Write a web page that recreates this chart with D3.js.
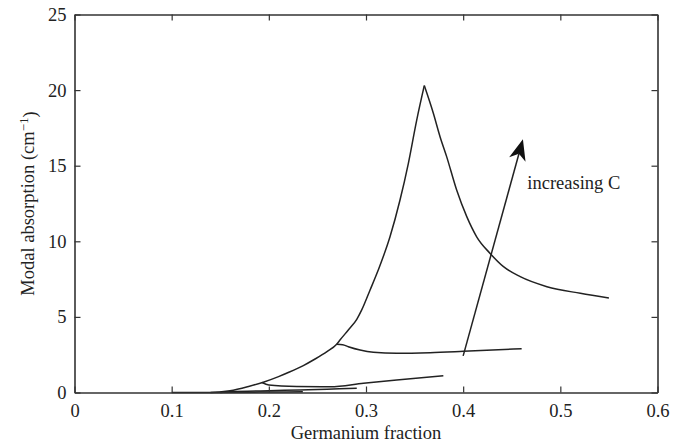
<!DOCTYPE html>
<html><head><meta charset="utf-8">
<script src="https://cdn.jsdelivr.net/npm/d3@7"></script>
<style>body{margin:0;background:#fff}svg{display:block}</style>
</head><body><div id="chart"></div>
<script>
const xTicks = [0, 0.1, 0.2, 0.3, 0.4, 0.5, 0.6];
const yTicks = [0, 5, 10, 15, 20, 25];
const xTickLabels = ["0", "0.1", "0.2", "0.3", "0.4", "0.5", "0.6"];
const yTickLabels = ["0", "5", "10", "15", "20", "25"];

// curves of modal absorption vs germanium fraction (largest C first)
const c4x = [0.10,0.14,0.16,0.18,0.1943,0.21,0.22,0.2355,0.2458,0.2598,0.2698,0.2732,0.282,0.2905,0.2956,0.3040,0.3126,0.3247,0.335,0.3436,0.3522,0.360,0.3693,0.3762,0.383,0.3933,0.4037,0.4139,0.4277,0.4415,0.4587,0.4862,0.5206,0.55];
const c4y = [0,0,0.12,0.42,0.68,1.05,1.32,1.78,2.15,2.70,3.19,3.47,4.15,4.84,5.46,6.75,8.10,10.30,12.73,15.16,18.02,20.3,18.47,16.92,15.6,13.39,11.63,10.30,9.2,8.32,7.66,7.0,6.56,6.25];
const c3x = [0.2698,0.2760,0.2818,0.2939,0.3076,0.3316,0.3659,0.4002,0.4602];
const c3y = [3.19,3.16,3.03,2.81,2.66,2.59,2.63,2.72,2.90];
const c2x = [0.1930,0.2000,0.2288,0.2631,0.2974,0.3316,0.3796];
const c2y = [0.66,0.50,0.40,0.38,0.61,0.83,1.11];
const c1x = [0.150,0.160,0.200,0.232,0.260,0.2905];
const c1y = [0.0,0.05,0.12,0.17,0.22,0.28];
const c0x = [0.14,0.20,0.235];
const c0y = [0.0,0.03,0.05];

const arrowX = [0.400, 0.4615];
const arrowY = [2.42, 16.75];
const annotation = {x: 0.466, y: 13.9, text: "increasing C"};

const W = 684, H = 445;
const m = {left: 74.5, right: 684 - 657.5, top: 14.5, bottom: 445 - 392.5};
const svg = d3.select("#chart").append("svg").attr("width", W).attr("height", H);
const x = d3.scaleLinear().domain([0, 0.6]).range([m.left, W - m.right]);
const y = d3.scaleLinear().domain([0, 25]).range([H - m.bottom, m.top]);
const font = "'Liberation Serif','Times New Roman',serif";
const ink = "#222";
const fs = 18.5;

// lines: split the main series at its peak so the cusp stays sharp
const line = d3.line().x(d => x(d[0])).y(d => y(d[1])).curve(d3.curveMonotoneX);
const pieces = [];
[[c4x,c4y],[c3x,c3y],[c2x,c2y],[c1x,c1y],[c0x,c0y]].forEach(([xs, ys], k) => {
  const pts = xs.map((v, i) => [v, ys[i]]);
  if (k === 0) {
    const pk = d3.maxIndex(ys);
    pieces.push(pts.slice(0, pk + 1), pts.slice(pk));
  } else pieces.push(pts);
});
pieces.forEach(p => {
  svg.append("path").datum(p).attr("d", line).attr("fill", "none").attr("stroke", ink)
    .attr("stroke-width", 1.5).attr("stroke-linejoin", "round");
});

// axes (MATLAB box with inward ticks)
const tick = 6;
const gB = svg.append("g").attr("transform", `translate(0,${y(0)})`)
  .call(d3.axisBottom(x).tickValues(xTicks).tickFormat((d, i) => xTickLabels[i]).tickSizeInner(-tick).tickSizeOuter(0).tickPadding(11));
const gT = svg.append("g").attr("transform", `translate(0,${y(25)})`)
  .call(d3.axisTop(x).tickValues(xTicks).tickFormat("").tickSizeInner(-tick).tickSizeOuter(0));
const gL = svg.append("g").attr("transform", `translate(${x(0)},0)`)
  .call(d3.axisLeft(y).tickValues(yTicks).tickFormat((d, i) => yTickLabels[i]).tickSizeInner(-tick).tickSizeOuter(0).tickPadding(8));
const gR = svg.append("g").attr("transform", `translate(${x(0.6)},0)`)
  .call(d3.axisRight(y).tickValues(yTicks).tickFormat("").tickSizeInner(-tick).tickSizeOuter(0));
[gB, gT, gL, gR].forEach(g => {
  g.attr("font-family", font).attr("font-size", fs);
  g.select(".domain").attr("stroke", "#333").attr("stroke-width", 1.6);
  g.selectAll(".tick line").attr("stroke", "#333").attr("stroke-width", 1.2);
  g.selectAll("text").attr("font-family", font).attr("font-size", fs).attr("fill", ink);
});

// arrow
const x0 = x(arrowX[0]), y0 = y(arrowY[0]), x1 = x(arrowX[1]), y1 = y(arrowY[1]);
const ang = Math.atan2(y1 - y0, x1 - x0);
const L = 21, hw = 8.5, notch = 15;
const ux = Math.cos(ang), uy = Math.sin(ang), px = -uy, py = ux;
const bx = x1 - ux * L, by = y1 - uy * L;
const nx = x1 - ux * notch, ny = y1 - uy * notch;
svg.append("line").attr("x1", x0).attr("y1", y0).attr("x2", nx).attr("y2", ny)
  .attr("stroke", ink).attr("stroke-width", 1.5);
svg.append("path")
  .attr("d", `M${x1},${y1}L${bx + px * hw},${by + py * hw}L${nx},${ny}L${bx - px * hw},${by - py * hw}Z`)
  .attr("fill", "#111");
svg.append("text").attr("x", x(annotation.x)).attr("y", y(annotation.y)).attr("dy", "0.35em")
  .attr("font-family", font).attr("font-size", fs).attr("fill", ink).text(annotation.text);

// axis titles
svg.append("text").attr("x", (x(0) + x(0.6)) / 2).attr("y", 439)
  .attr("text-anchor", "middle").attr("font-family", font).attr("font-size", fs).attr("fill", ink)
  .text("Germanium fraction");
const yl = svg.append("text").attr("transform", `translate(34,${(y(0) + y(25)) / 2}) rotate(-90)`)
  .attr("text-anchor", "middle").attr("font-family", font).attr("font-size", fs).attr("fill", ink);
yl.append("tspan").text("Modal absorption (cm");
yl.append("tspan").attr("dy", "-0.45em").attr("font-size", 13).text("\u22121");
yl.append("tspan").attr("dy", "0.45em").text(")");
</script></body></html>
